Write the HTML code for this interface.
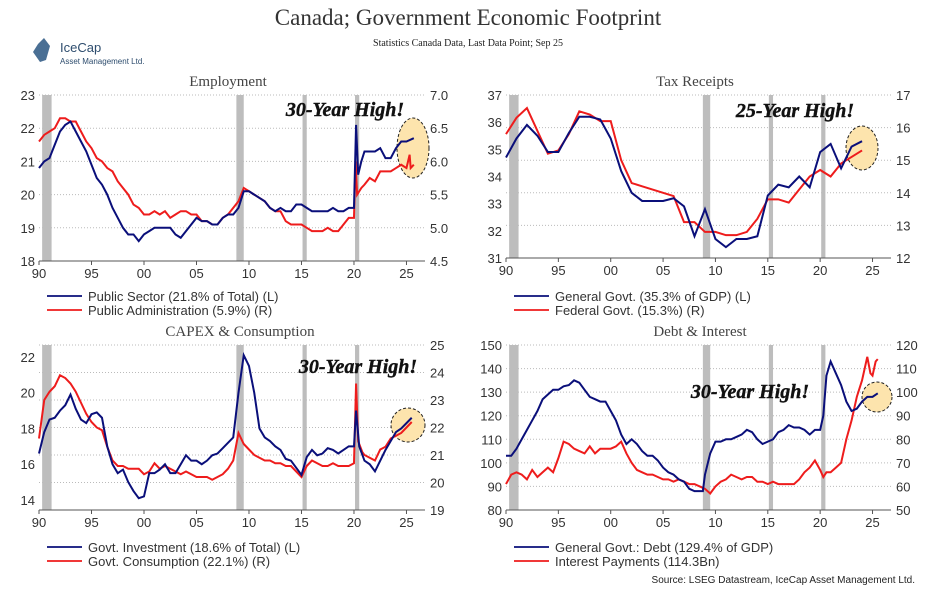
<!DOCTYPE html>
<html><head><meta charset="utf-8"><style>
body{margin:0;background:#fff;width:936px;height:603px;overflow:hidden;font-family:"Liberation Sans",sans-serif}
svg text{font-family:"Liberation Sans",sans-serif}
</style></head><body>
<svg id="c" width="936" height="603">
<text x="468" y="25" text-anchor="middle" font-size="23" fill="#333" style="font-family:'Liberation Serif',serif">Canada; Government Economic Footprint</text>
<text x="468" y="46" text-anchor="middle" font-size="10" fill="#222" style="font-family:'Liberation Serif',serif">Statistics Canada Data, Last Data Point; Sep 25</text>
<g>
<polygon points="38,44 44,38 50,46 46,60 40,62 33,52" fill="#4a6f94"/>
<text x="60" y="52" font-size="13" fill="#2e4d6e">IceCap</text>
<text x="60" y="64" font-size="8" fill="#2e4d6e">Asset Management Ltd.</text>
</g>
<text x="915" y="583" text-anchor="end" font-size="10" fill="#222">Source: LSEG Datastream, IceCap Asset Management Ltd.</text>
</svg>
<script>
const NS="http://www.w3.org/2000/svg";const svg=document.getElementById('c');
function mk(t,a,p){const e=document.createElementNS(NS,t);for(const k in a)e.setAttribute(k,a[k]);(p||svg).appendChild(e);return e;}
const recessions=[[1990.3,1991.2],[2008.8,2009.5],[2015.1,2015.5],[2020.1,2020.5]];
const xTickLabels=["90","95","00","05","10","15","20","25"];
// Employment
const empYears=[1990,1990.5,1991,1991.5,1992,1992.5,1993,1993.5,1994,1994.5,1995,1995.5,1996,1996.5,1997,1997.5,1998,1998.5,1999,1999.5,2000,2000.5,2001,2001.5,2002,2002.5,2003,2003.5,2004,2004.5,2005,2005.5,2006,2006.5,2007,2007.5,2008,2008.5,2009,2009.5,2010,2010.5,2011,2011.5,2012,2012.5,2013,2013.5,2014,2014.5,2015,2015.5,2016,2016.5,2017,2017.5,2018,2018.5,2019,2019.5,2020,2020.2,2020.4,2020.7,2021,2021.5,2022,2022.5,2023,2023.5,2024,2024.5,2025,2025.7];
const publicSector=[20.8,21.0,21.1,21.5,21.9,22.1,22.2,21.9,21.6,21.3,20.9,20.5,20.3,20.0,19.6,19.3,19.0,18.8,18.8,18.6,18.8,18.9,19.0,19.0,19.0,19.0,18.8,18.7,18.9,19.1,19.3,19.2,19.2,19.1,19.1,19.3,19.4,19.4,19.6,20.1,20.1,20.0,19.9,19.8,19.6,19.5,19.6,19.5,19.5,19.7,19.7,19.6,19.5,19.5,19.5,19.5,19.6,19.5,19.5,19.6,19.6,22.1,20.6,21.0,21.3,21.3,21.3,21.4,21.1,21.1,21.4,21.6,21.6,21.7];
const adminYears=[1990,1990.5,1991,1991.5,1992,1992.5,1993,1993.5,1994,1994.5,1995,1995.5,1996,1996.5,1997,1997.5,1998,1998.5,1999,1999.5,2000,2000.5,2001,2001.5,2002,2002.5,2003,2003.5,2004,2004.5,2005,2005.5,2006,2006.5,2007,2007.5,2008,2008.5,2009,2009.5,2010,2010.5,2011,2011.5,2012,2012.5,2013,2013.5,2014,2014.5,2015,2015.5,2016,2016.5,2017,2017.5,2018,2018.5,2019,2019.5,2020,2020.15,2020.3,2020.7,2021,2021.5,2022,2022.5,2023,2023.5,2024,2024.5,2025,2025.3,2025.4,2025.7];
const publicAdmin=[6.3,6.4,6.45,6.5,6.65,6.65,6.6,6.6,6.45,6.3,6.2,6.05,6.0,5.9,5.85,5.7,5.6,5.5,5.35,5.3,5.2,5.2,5.25,5.2,5.25,5.15,5.2,5.25,5.25,5.2,5.2,5.1,5.1,5.05,5.05,5.15,5.2,5.3,5.4,5.6,5.55,5.5,5.45,5.4,5.3,5.25,5.25,5.1,5.05,5.05,5.05,5.0,4.95,4.95,4.95,5.0,4.95,4.95,5.05,5.15,5.15,6.0,5.5,5.6,5.65,5.75,5.7,5.85,5.85,5.85,5.9,5.95,5.9,6.1,5.9,5.95];
// Tax
const taxYears=[1990,1991,1992,1993,1994,1995,1996,1997,1998,1999,2000,2001,2002,2003,2004,2005,2006,2007,2008,2009,2010,2011,2012,2013,2014,2015,2016,2017,2018,2019,2020,2021,2022,2023,2024];
const generalGovt=[34.7,35.4,35.9,35.5,34.9,34.9,35.6,36.2,36.2,36.1,35.4,34.2,33.4,33.1,33.1,33.1,33.2,32.9,31.8,32.8,31.7,31.4,31.7,31.7,31.8,33.3,33.7,33.6,34.0,33.6,34.9,35.2,34.3,35.1,35.3];
const federalGovt=[15.8,16.3,16.6,15.9,15.2,15.3,15.8,16.5,16.4,16.2,16.2,15.0,14.3,14.2,14.1,14.0,13.9,13.1,13.1,12.8,12.8,12.7,12.7,12.8,13.2,13.8,13.8,13.7,14.1,14.5,14.7,14.5,14.9,15.1,15.3];
// CAPEX
const capYears=[1990,1990.5,1991,1991.5,1992,1992.5,1993,1993.5,1994,1994.5,1995,1995.5,1996,1996.5,1997,1997.5,1998,1998.5,1999,1999.5,2000,2000.5,2001,2001.5,2002,2002.5,2003,2003.5,2004,2004.5,2005,2005.5,2006,2006.5,2007,2007.5,2008,2008.5,2009,2009.5,2010,2010.5,2011,2011.5,2012,2012.5,2013,2013.5,2014,2014.5,2015,2015.5,2016,2016.5,2017,2017.5,2018,2018.5,2019,2019.5,2020,2020.2,2020.5,2021,2021.5,2022,2022.5,2023,2023.5,2024,2024.5,2025,2025.5];
const govtInvestment=[16.6,17.8,18.5,18.6,19.0,19.3,19.9,19.1,18.5,18.3,18.8,18.9,18.6,17.0,16.0,15.5,15.7,15.0,14.5,14.1,14.2,15.5,15.5,15.7,16.0,15.5,15.5,16.0,16.5,16.2,16.2,16.0,16.2,16.5,16.6,16.9,17.2,17.5,20.0,22.1,21.5,20.0,18.0,17.5,17.3,17.0,16.8,16.3,16.2,15.8,15.4,16.4,16.8,16.5,16.6,16.9,16.8,16.6,16.8,17.0,17.0,19.0,17.0,16.2,16.0,15.6,16.2,16.8,17.3,17.8,18.0,18.3,18.6];
const consYears=[1990,1990.5,1991,1991.5,1992,1992.5,1993,1993.5,1994,1994.5,1995,1995.5,1996,1996.5,1997,1997.5,1998,1998.5,1999,1999.5,2000,2000.5,2001,2001.5,2002,2002.5,2003,2003.5,2004,2004.5,2005,2005.5,2006,2006.5,2007,2007.5,2008,2008.5,2009,2009.5,2010,2010.5,2011,2011.5,2012,2012.5,2013,2013.5,2014,2014.5,2015,2015.5,2016,2016.5,2017,2017.5,2018,2018.5,2019,2019.5,2020,2020.2,2020.4,2020.8,2021,2021.5,2022,2022.5,2023,2023.5,2024,2024.5,2025,2025.5];
const govtConsumption=[21.6,23.0,23.3,23.5,23.9,23.8,23.6,23.3,22.9,22.5,22.2,22.0,21.9,21.3,20.8,20.6,20.6,20.5,20.5,20.5,20.3,20.4,20.7,20.5,20.6,20.5,20.4,20.3,20.4,20.3,20.2,20.2,20.2,20.1,20.2,20.3,20.5,20.8,21.8,21.4,21.2,21.0,20.9,20.8,20.8,20.7,20.7,20.6,20.6,20.4,20.2,20.6,20.8,20.7,20.6,20.6,20.7,20.6,20.6,20.6,20.7,23.6,21.5,21.1,21.0,20.9,20.8,21.2,21.3,21.6,21.7,21.8,22.0,22.2];
// Debt
const debtYears=[1990,1990.5,1991,1991.5,1992,1992.5,1993,1993.5,1994,1994.5,1995,1995.5,1996,1996.5,1997,1997.5,1998,1998.5,1999,1999.5,2000,2000.5,2001,2001.5,2002,2002.5,2003,2003.5,2004,2004.5,2005,2005.5,2006,2006.5,2007,2007.5,2008,2008.5,2008.8,2009,2009.5,2010,2010.5,2011,2011.5,2012,2012.5,2013,2013.5,2014,2014.5,2015,2015.5,2016,2016.5,2017,2017.5,2018,2018.5,2019,2019.5,2020,2020.3,2020.6,2021,2021.5,2022,2022.5,2023,2023.5,2024,2024.5,2025,2025.5];
const govtDebt=[103,103,106,110,114,118,122,127,129,131,131,132.5,133,135,134,131,128,127,126,126,122,118,112,108,110,108,105,103,103,101,98,96,95,93,92,89,88,88,88,95,104,109,109,110,110,111,112,114,113,110,108,109,110,113,114,116,115,115,114,112,114,114,120,137,143,138,133,126,122,123,126,128,128,129.5];
const intYears=[1990,1990.5,1991,1991.5,1992,1992.5,1993,1993.5,1994,1994.5,1995,1995.5,1996,1996.5,1997,1997.5,1998,1998.5,1999,1999.5,2000,2000.5,2001,2001.5,2002,2002.5,2003,2003.5,2004,2004.5,2005,2005.5,2006,2006.5,2007,2007.5,2008,2008.5,2009,2009.5,2010,2010.5,2011,2011.5,2012,2012.5,2013,2013.5,2014,2014.5,2015,2015.5,2016,2016.5,2017,2017.5,2018,2018.5,2019,2019.5,2020,2020.3,2020.6,2021,2021.5,2022,2022.5,2023,2023.5,2024,2024.5,2024.8,2025,2025.3,2025.5];
const interestPayments=[61,65,66,65,63,67,64,66,68,66,72,79,78,76,75,74,77,74,76,76,76,77,79,74,70,67,66,65,65,64,63,63,62,63,62,61,61,60,59,57,60,62,63,65,64,63,64,64,62,62,61,62,61,61,61,61,63,66,68,71,67,64,66,66,68,70,80,88,98,105,115,108,107,113,114];

const panels=[
 {name:"employment",title:"Employment",tx:228,L:39,R:425,T:95,B:261,lmin:18,lmax:23,lticks:[18,19,20,21,22,23],lfmt:v=>v,rmin:4.5,rmax:7,rticks:[4.5,5,5.5,6,6.5,7],rfmt:v=>v.toFixed(1),
  s1:[empYears,publicSector],s2:[adminYears,publicAdmin],leg:["Public Sector (21.8% of Total) (L)","Public Administration (5.9%) (R)"],ly:296,
  note:"30-Year High!",nx:345,ny:116,ell:[413,148,16,30]},
 {name:"tax-receipts",title:"Tax Receipts",tx:695,L:506,R:891,T:95,B:258,lmin:31,lmax:37,lticks:[31,32,33,34,35,36,37],lfmt:v=>v,rmin:12,rmax:17,rticks:[12,13,14,15,16,17],rfmt:v=>v,
  s1:[taxYears,generalGovt],s2:[taxYears,federalGovt],leg:["General Govt. (35.3% of GDP) (L)","Federal Govt. (15.3%) (R)"],ly:296,
  note:"25-Year High!",nx:795,ny:117,ell:[862,148,16,22]},
 {name:"capex-consumption",title:"CAPEX & Consumption",tx:240,L:39,R:425,T:345,B:510,lmin:13.44,lmax:22.67,lticks:[14,16,18,20,22],lfmt:v=>v,rmin:19,rmax:25,rticks:[19,20,21,22,23,24,25],rfmt:v=>v,
  s1:[capYears,govtInvestment],s2:[consYears,govtConsumption],leg:["Govt. Investment (18.6% of Total) (L)","Govt. Consumption (22.1%) (R)"],ly:547,
  note:"30-Year High!",nx:358,ny:373,ell:[408,425,17,17]},
 {name:"debt-interest",title:"Debt & Interest",tx:700,L:506,R:891,T:345,B:510,lmin:80,lmax:150,lticks:[80,90,100,110,120,130,140,150],lfmt:v=>v,rmin:50,rmax:120,rticks:[50,60,70,80,90,100,110,120],rfmt:v=>v,
  s1:[debtYears,govtDebt],s2:[intYears,interestPayments],leg:["General Govt.: Debt (129.4% of GDP)","Interest Payments (114.3Bn)"],ly:547,
  note:"30-Year High!",nx:750,ny:398,ell:[877,397,15,15]}
];
panels.forEach(p=>{
 const g=mk('g',{});
 
 
 const x0=p.L,x25=p.L+(p.R-p.L)*0.952;
 const xs=y=>x0+(y-1990)/35*(x25-x0);
 const yl=v=>p.B-(v-p.lmin)/(p.lmax-p.lmin)*(p.B-p.T);
 const yr=v=>p.B-(v-p.rmin)/(p.rmax-p.rmin)*(p.B-p.T);
 const t=mk('text',{x:p.tx,y:p.T-9,'text-anchor':'middle','font-size':15,fill:'#444',style:"font-family:'Liberation Serif',serif"},g);t.textContent=p.title;
 
 p.rticks.forEach(v=>{mk('line',{x1:p.L,x2:p.R,y1:yr(v),y2:yr(v),stroke:'#bbb','stroke-dasharray':'1 2'},g);
  const tt=mk('text',{x:p.R+5,y:yr(v)+5,'font-size':13,fill:'#333'},g);tt.textContent=p.rfmt(v);
  });
 p.lticks.forEach(v=>{const tt=mk('text',{x:p.L-4,y:yl(v)+5,'text-anchor':'end','font-size':13,fill:'#333'},g);tt.textContent=p.lfmt(v);
  });
 recessions.forEach(r=>{const b=mk('rect',{x:xs(r[0]),y:p.T,width:xs(r[1])-xs(r[0]),height:p.B-p.T,fill:'#bdbdbd'},g);
  });
 mk('line',{x1:p.L,x2:p.R,y1:p.B,y2:p.B,stroke:'#555'},g);
 xTickLabels.forEach((l,i)=>{const x=xs(1990+5*i);mk('line',{x1:x,x2:x,y1:p.B,y2:p.B+4,stroke:'#555'},g);
  const tt=mk('text',{x:x,y:p.B+17,'text-anchor':'middle','font-size':13,fill:'#333'},g);tt.textContent=l;
  });
 const e=mk('ellipse',{cx:p.ell[0],cy:p.ell[1],rx:p.ell[2],ry:p.ell[3],fill:'#fde4ad',stroke:'#222','stroke-dasharray':'3 2'},g);
 
 const l2=mk('polyline',{points:p.s2[0].map((y,i)=>xs(y)+','+yr(p.s2[1][i])).join(' '),fill:'none',stroke:'#ee1c1c','stroke-width':2},g);
 
 const l1=mk('polyline',{points:p.s1[0].map((y,i)=>xs(y)+','+yl(p.s1[1][i])).join(' '),fill:'none',stroke:'#0a0f7a','stroke-width':2},g);
 
 const n=mk('text',{x:p.nx,y:p.ny,'text-anchor':'middle','font-size':20,'font-weight':'bold','font-style':'italic',fill:'#111',stroke:'#111','stroke-width':0.4,style:"font-family:'Liberation Serif',serif"},g);n.textContent=p.note;
 
 ['#0a0f7a','#ee1c1c'].forEach((c,i)=>{const lg=mk('g',{},g);
  
  const yy=p.ly+i*14;mk('line',{x1:p.L+8,x2:p.L+43,y1:yy,y2:yy,stroke:c,'stroke-width':1.8},lg);
  const lt=mk('text',{x:p.L+49,y:yy+5,'font-size':13,fill:'#333'},lg);lt.textContent=p.leg[i];});
});
</script>
</body></html>
